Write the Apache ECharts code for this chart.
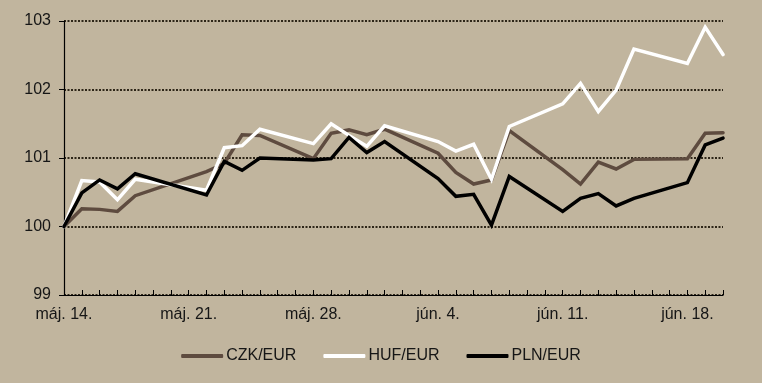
<!DOCTYPE html>
<html>
<head>
<meta charset="utf-8">
<script src="https://cdn.jsdelivr.net/npm/echarts@6/dist/echarts.min.js"></script>
<style>
html,body{margin:0;padding:0;background:#C1B59E;}
#c{width:762px;height:383px;}
</style>
</head>
<body>
<div id="c"></div>
<script>
// Calendar days from 14 May to 20 June (non-trading days are null)
const categories = [
  'máj. 14.','máj. 15.','máj. 16.','máj. 17.','máj. 18.','máj. 19.','máj. 20.',
  'máj. 21.','máj. 22.','máj. 23.','máj. 24.','máj. 25.','máj. 26.','máj. 27.',
  'máj. 28.','máj. 29.','máj. 30.','máj. 31.','jún. 1.','jún. 2.','jún. 3.',
  'jún. 4.','jún. 5.','jún. 6.','jún. 7.','jún. 8.','jún. 9.','jún. 10.',
  'jún. 11.','jún. 12.','jún. 13.','jún. 14.','jún. 15.','jún. 16.','jún. 17.',
  'jún. 18.','jún. 19.','jún. 20.'
];
const czk = [
  100.00,100.26,100.25,100.22,100.45,null,null,
  null,100.80,100.92,101.34,101.33,null,null,
  100.99,101.36,101.41,101.34,101.42,null,null,
  101.07,100.79,100.62,100.68,101.40,null,null,
  100.83,100.62,100.94,100.84,100.98,null,null,
  100.99,101.36,101.37
];
const huf = [
  100.00,100.67,100.65,100.39,100.69,null,null,
  null,100.53,101.15,101.18,101.42,null,null,
  101.21,101.50,101.33,101.17,101.47,null,null,
  101.24,101.10,101.20,100.69,101.46,null,null,
  101.79,102.09,101.68,101.99,102.59,null,null,
  102.38,102.91,102.51
];
const pln = [
  100.00,100.49,100.68,100.55,100.77,null,null,
  null,100.46,100.95,100.82,101.00,null,null,
  100.97,100.99,101.30,101.08,101.24,null,null,
  100.70,100.44,100.47,100.02,100.73,null,null,
  100.22,100.41,100.48,100.30,100.41,null,null,
  100.64,101.19,101.29
];
const seriesNames = ['CZK/EUR','HUF/EUR','PLN/EUR'];
const yTicks = [99,100,101,102,103];

const chart = echarts.init(document.getElementById('c'));
const font = '"Liberation Sans", Arial, sans-serif';
function mk(name, data, color){
  return {
    name: name, type: 'line', data: data, connectNulls: true,
    symbol: 'none', smooth: false,
    lineStyle: {color: color, width: 3.5, cap: 'round', join: 'miter'},
    itemStyle: {color: color},
    emphasis: {disabled: true}
  };
}
chart.setOption({
  backgroundColor: '#C1B59E',
  animation: false,
  textStyle: {fontFamily: font},
  grid: {left: 64, right: 39, top: 21, bottom: 88, containLabel: false},
  legend: {
    bottom: 14, left: 'center',
    icon: 'roundRect', itemWidth: 42, itemHeight: 4, itemGap: 27,
    textStyle: {fontSize: 16, color: '#161616', fontFamily: font, padding: [0,0,0,-2]},
    data: seriesNames
  },
  xAxis: {
    type: 'category', data: categories, boundaryGap: false,
    axisLine: {lineStyle: {color: '#000', width: 1.2}},
    axisTick: {show: true, inside: true, length: 5, interval: 0, lineStyle: {color: '#000'}},
    axisLabel: {interval: 6, fontSize: 16, color: '#161616', margin: 12, fontFamily: font},
    splitLine: {show: false}
  },
  yAxis: {
    type: 'value', min: yTicks[0], max: yTicks[yTicks.length-1], interval: 1,
    axisLine: {show: true, lineStyle: {color: '#000', width: 1.2}},
    axisTick: {show: true, inside: false, length: 5, lineStyle: {color: '#000'}},
    axisLabel: {fontSize: 16, color: '#161616', margin: 13, fontFamily: font},
    splitLine: {show: true, lineStyle: {color: '#2e2618', type: [2,1.5], width: 2}}
  },
  series: [
    mk(seriesNames[0], czk, '#5E4B3F'),
    mk(seriesNames[1], huf, '#FFFFFF'),
    mk(seriesNames[2], pln, '#000000')
  ]
});
</script>
</body>
</html>
